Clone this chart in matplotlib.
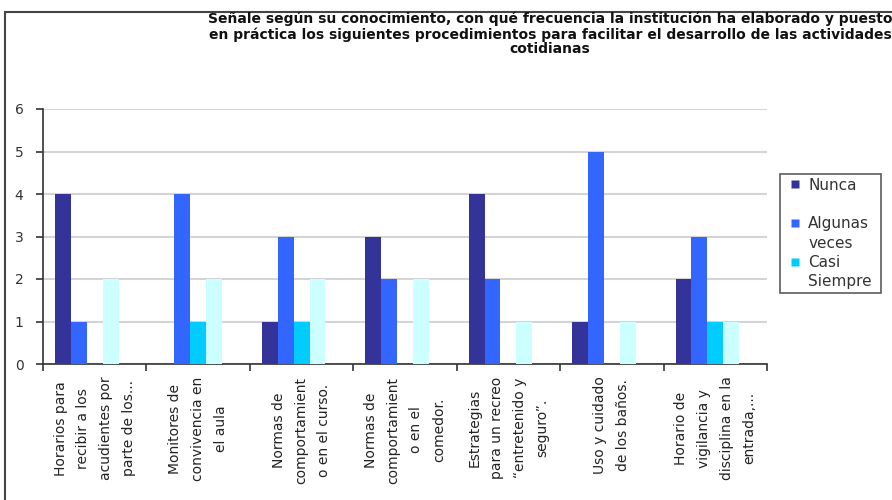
import numpy as np
import matplotlib
matplotlib.use('Agg')
import matplotlib.pyplot as plt
from matplotlib.patches import Rectangle
from matplotlib.lines import Line2D

categorias = ['Horarios para\nrecibir a los\nacudientes por\nparte de los...',
              'Monitores de\nconvivencia en\nel aula',
              'Normas de\ncomportamient\no en el curso.',
              'Normas de\ncomportamient\no en el\ncomedor.',
              'Estrategias\npara un recreo\n\u201centretenido y\nseguro\u201d.',
              'Uso y cuidado\nde los baños.',
              'Horario de\nvigilancia y\ndisciplina en la\nentrada,...']
nunca = [4, 0, 1, 3, 4, 1, 2]
algunas_veces = [1, 4, 3, 2, 2, 5, 3]
casi_siempre = [0, 1, 1, 0, 0, 0, 1]
siempre = [2, 2, 2, 2, 1, 1, 1]

titulo = ('Señale según su conocimiento, con qué frecuencia la institución ha elaborado y puesto\n'
          'en práctica los siguientes procedimientos para facilitar el desarrollo de las actividades\n'
          'cotidianas')

colores = ['#333399', '#3366FF', '#00CCFF', '#CCFFFF']

fig = plt.figure(figsize=(8.92, 5), dpi=100)
ax = fig.add_axes([43/892, 1-364/500, (767-43)/892, (364-109)/500])

x = np.arange(len(categorias))
w = 1/6.5  # five series slots with 150% gap, as in the original sheet
series = [nunca, algunas_veces, casi_siempre, siempre]
for k, (vals, c) in enumerate(zip(series, colores)):
    ax.bar(x + (k - 2) * w, vals, width=w, color=c, zorder=3)

ax.set_xlim(-0.5, len(categorias) - 0.5)
ax.set_ylim(0, 6)
ax.set_yticks(range(0, 7))
ax.yaxis.grid(True, color='#D4D4D4', linewidth=1.5, zorder=0)
ax.set_axisbelow(True)
for s in ['top', 'right']:
    ax.spines[s].set_visible(False)
for s in ['left', 'bottom']:
    ax.spines[s].set_color('#333333')
    ax.spines[s].set_linewidth(1.2)

ax.set_xticks(x)
ax.set_xticklabels(categorias, rotation=90, ha='center', va='top',
                   multialignment='center', linespacing=1.8, fontsize=10, color='#222222')
ax.set_xticks(np.arange(-0.5, len(categorias)), minor=True)
ax.tick_params(axis='x', which='major', length=0, pad=9)
ax.tick_params(axis='x', which='minor', length=5, width=1.2, color='#333333', direction='out')
ax.tick_params(axis='y', length=5, width=1.2, color='#333333', pad=9, labelsize=10, labelcolor='#333333')

# legend: blank handles keep each marker beside the first line of its label
def marca(c):
    return Line2D([], [], linestyle='none', marker='s', markersize=5.8,
                  markerfacecolor=c, markeredgecolor='none')
vacio = Line2D([], [], linestyle='none')
handles = [marca(colores[0]), vacio, marca(colores[1]), vacio, marca(colores[2]), vacio]
labels = ['Nunca', ' ', 'Algunas', 'veces', 'Casi', 'Siempre ']
leg = fig.legend(handles, labels, loc='upper left', bbox_to_anchor=(780/892, 1-174/500),
                 frameon=True, fancybox=False, edgecolor='#333333', fontsize=11,
                 handlelength=1.5, handletextpad=0.1,
                 labelspacing=0.28, borderpad=0.25, borderaxespad=0)
leg.get_frame().set_linewidth(1.2)
for t in leg.get_texts():
    t.set_color('#333333')

fig.text(550/892, 1-12/500, titulo, ha='center', va='top', fontsize=10,
         fontweight='bold', linespacing=1.05, color='#111111')

marco = Rectangle((5/892, -0.2), 1.2, 1.2 - 12/500, transform=fig.transFigure,
                  fill=False, edgecolor='#444444', linewidth=1.5, clip_on=False)
fig.patches.append(marco)

fig.savefig('out.png', dpi=100)
